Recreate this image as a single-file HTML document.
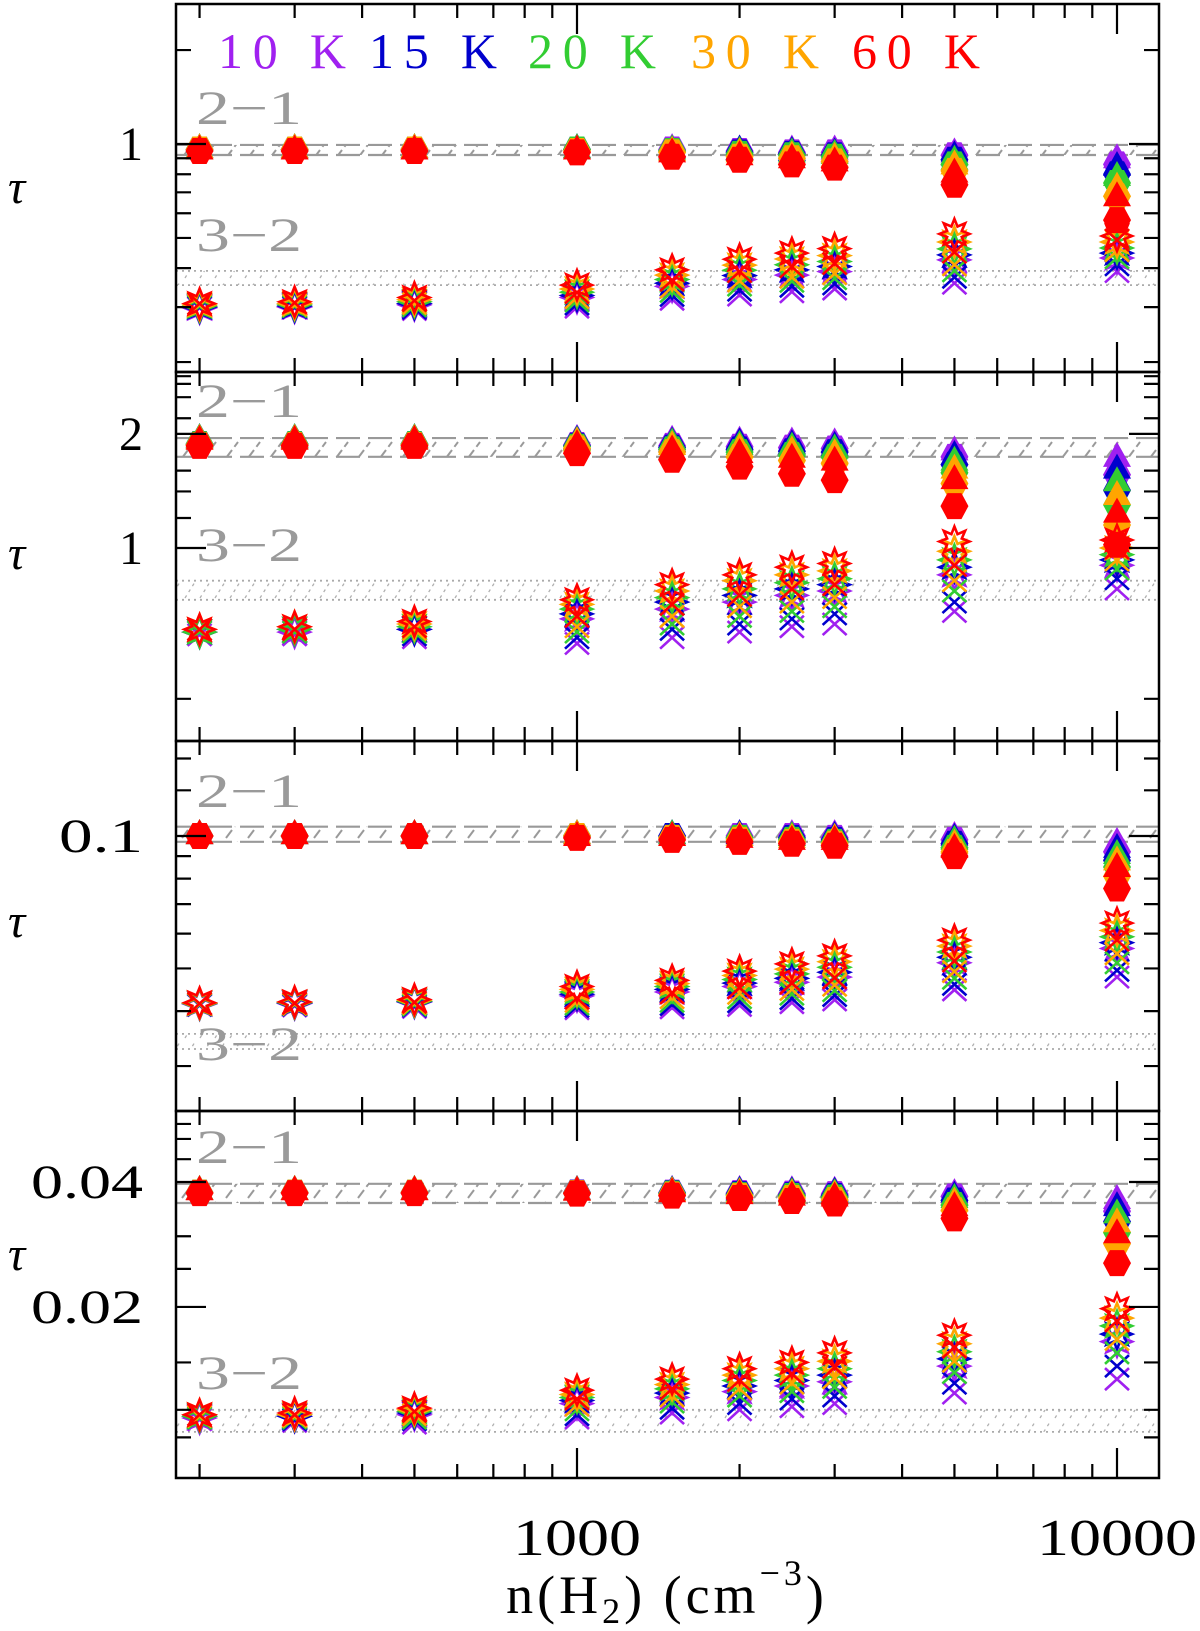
<!DOCTYPE html>
<html><head><meta charset="utf-8"><style>
html,body{margin:0;padding:0;background:#fff}
svg{display:block}
text{font-family:"Liberation Serif",serif}
</style></head>
<body>
<svg id="chart" xmlns="http://www.w3.org/2000/svg" width="1200" height="1631" viewBox="0 0 1200 1631">
<defs>
<pattern id="hatch21" patternUnits="userSpaceOnUse" width="44" height="20">
<path d="M6 18 L18 2 M28 18 L40 2" stroke="#9a9a9a" stroke-width="2" stroke-dasharray="10 4"/>
</pattern>
<pattern id="hatch32" patternUnits="userSpaceOnUse" width="30" height="20">
<path d="M5 18 L15 2 M20 18 L30 2" stroke="#b0b0b0" stroke-width="1.3" stroke-dasharray="3 4"/>
</pattern>
</defs>
<g id="layer-bands"></g>
<g id="layer-marks"></g>
<g id="layer-axes"></g>
</svg>
<script>
// ---- data ----
const densities = [200, 300, 500, 1000, 1500, 2000, 2500, 3000, 5000, 10000];
const temps = ["10 K", "15 K", "20 K", "30 K", "60 K"];
const xMajorTicks = [1000, 10000];
const xMinorTicks = [200,300,400,500,600,700,800,900,2000,3000,4000,5000,6000,7000,8000,9000];

// Panel 1
const p1Tri21 = [
 [.97,.97,.97,.97,.97,.96,.96,.96,.94,.90],
 [.97,.97,.97,.97,.96,.96,.95,.94,.92,.85],
 [.97,.97,.97,.97,.96,.95,.94,.93,.89,.79],
 [.97,.97,.97,.96,.95,.94,.92,.91,.86,.73],
 [.96,.96,.96,.96,.94,.92,.90,.88,.81,.68]];
const p1Hex21 = [
 [.96,.96,.96,.96,.96,.95,.94,.94,.92,.86],
 [.96,.96,.96,.96,.95,.94,.93,.92,.89,.80],
 [.96,.96,.96,.96,.95,.93,.92,.91,.86,.75],
 [.96,.96,.96,.95,.94,.91,.90,.88,.82,.68],
 [.95,.95,.95,.94,.91,.89,.86,.84,.74,.57]];
const p1Star32 = [
 [.298,.300,.305,.322,.350,.368,.380,.390,.425,.431],
 [.300,.302,.308,.327,.358,.379,.395,.405,.441,.447],
 [.302,.305,.312,.335,.368,.394,.410,.420,.461,.464],
 [.305,.308,.317,.343,.380,.409,.428,.439,.485,.485],
 [.308,.312,.322,.353,.395,.427,.447,.462,.515,.507]];
const p1Cross32 = [
 [.298,.298,.295,.300,.318,.328,.336,.343,.358,.390],
 [.300,.300,.298,.307,.327,.340,.350,.356,.374,.410],
 [.302,.302,.303,.314,.337,.353,.363,.370,.392,.432],
 [.305,.305,.308,.322,.348,.364,.374,.384,.410,.455],
 [.308,.310,.315,.334,.366,.390,.404,.414,.450,.492]];
const p1Band21 = [0.922, 0.993];
const p1Band32 = [0.353, 0.392];
const p1TickLabels = [1];
const p1MinorTicks = [2, 0.9, 0.8, 0.7, 0.6, 0.5, 0.4, 0.3, 0.2];

// Panel 2
const p2Tri21 = [
 [1.95,1.95,1.95,1.94,1.93,1.92,1.91,1.90,1.81,1.74],
 [1.95,1.95,1.95,1.93,1.91,1.90,1.88,1.86,1.76,1.62],
 [1.95,1.95,1.95,1.92,1.90,1.87,1.85,1.83,1.70,1.50],
 [1.94,1.94,1.94,1.91,1.87,1.84,1.81,1.78,1.62,1.38],
 [1.93,1.93,1.93,1.88,1.82,1.78,1.73,1.70,1.52,1.24]];
const p2Hex21 = [
 [1.88,1.88,1.88,1.87,1.86,1.85,1.84,1.83,1.74,1.56],
 [1.88,1.88,1.88,1.86,1.84,1.82,1.80,1.79,1.66,1.42],
 [1.88,1.88,1.88,1.85,1.82,1.79,1.76,1.74,1.58,1.30],
 [1.87,1.87,1.87,1.83,1.79,1.74,1.70,1.67,1.48,1.15],
 [1.86,1.86,1.86,1.78,1.71,1.64,1.57,1.51,1.29,1.02]];
const p2Star32 = [
 [.60,.60,.61,.65,.69,.72,.75,.77,.85,.90],
 [.60,.61,.61,.67,.72,.75,.78,.80,.89,.93],
 [.60,.61,.62,.69,.74,.78,.81,.83,.93,.96],
 [.61,.62,.63,.71,.77,.82,.85,.87,.98,1.00],
 [.61,.62,.64,.73,.80,.85,.89,.91,1.04,1.05]];
const p2Cross32 = [
 [.59,.59,.58,.56,.58,.60,.62,.63,.68,.78],
 [.60,.60,.59,.58,.61,.63,.65,.67,.72,.83],
 [.60,.60,.60,.60,.63,.66,.68,.70,.77,.88],
 [.61,.61,.61,.62,.66,.70,.72,.74,.82,.93],
 [.61,.61,.62,.66,.71,.75,.78,.80,.90,1.00]];
const p2Band21 = [1.74, 1.95];
const p2Band32 = [0.73, 0.82];
const p2TickLabels = [2, 1];
const p2MinorTicks = [2.84, 2.71, 2.5, 2.2, 1.6, 1.41, 1.2, 0.4];

// Panel 3
const p3Tri21 = [
 [.101,.101,.101,.101,.101,.101,.101,.101,.100,.097],
 [.101,.101,.101,.101,.101,.101,.100,.100,.099,.094],
 [.101,.101,.101,.101,.101,.100,.100,.099,.098,.091],
 [.101,.101,.101,.101,.100,.100,.099,.099,.096,.088],
 [.101,.101,.101,.100,.100,.099,.098,.098,.094,.085]];
const p3Hex21 = [
 [.100,.100,.100,.100,.100,.100,.100,.099,.098,.092],
 [.100,.100,.100,.100,.100,.099,.099,.098,.096,.088],
 [.100,.100,.100,.100,.099,.099,.098,.097,.094,.085],
 [.100,.100,.100,.100,.099,.098,.097,.096,.092,.081],
 [.100,.100,.100,.099,.098,.097,.096,.095,.090,.076]];
const p3Star32 = [
 [.0415,.0416,.0419,.0433,.0442,.0455,.0465,.0478,.0515,.0555],
 [.0416,.0417,.0420,.0437,.0448,.0463,.0475,.0490,.0530,.0572],
 [.0416,.0418,.0421,.0442,.0455,.0472,.0486,.0503,.0545,.0590],
 [.0417,.0419,.0423,.0448,.0462,.0482,.0498,.0518,.0562,.0610],
 [.0418,.0420,.0425,.0455,.0470,.0493,.0512,.0534,.0580,.0634]];
const p3Cross32 = [
 [.0412,.0411,.0408,.0405,.0407,.0412,.0418,.0424,.0447,.0478],
 [.0413,.0413,.0411,.0410,.0414,.0420,.0427,.0434,.0460,.0495],
 [.0414,.0414,.0413,.0415,.0421,.0429,.0437,.0445,.0475,.0515],
 [.0415,.0415,.0416,.0421,.0429,.0439,.0448,.0458,.0492,.0540],
 [.0416,.0417,.0419,.0428,.0440,.0452,.0463,.0476,.0520,.0580]];
const p3Band21 = [0.097, 0.105];
const p3Band32 = [0.0328, 0.0355];
const p3TickLabels = [0.1];
const p3MinorTicks = [0.15, 0.127, 0.09, 0.08, 0.07, 0.06, 0.05, 0.04, 0.03];

// Panel 4
const p4Tri21 = [
 [.0383,.0383,.0383,.0383,.0383,.0383,.0382,.0381,.0376,.0364],
 [.0383,.0383,.0383,.0383,.0382,.0381,.0380,.0379,.0371,.0350],
 [.0383,.0383,.0383,.0382,.0381,.0379,.0378,.0376,.0366,.0336],
 [.0383,.0383,.0383,.0382,.0380,.0377,.0375,.0373,.0359,.0320],
 [.0382,.0382,.0382,.0381,.0378,.0374,.0371,.0369,.0350,.0301]];
const p4Hex21 = [
 [.0377,.0377,.0377,.0377,.0377,.0376,.0375,.0374,.0369,.0340],
 [.0377,.0377,.0377,.0377,.0376,.0374,.0372,.0370,.0361,.0321],
 [.0377,.0377,.0377,.0376,.0375,.0372,.0370,.0367,.0352,.0302],
 [.0377,.0377,.0377,.0376,.0373,.0370,.0366,.0362,.0342,.0284],
 [.0376,.0376,.0376,.0375,.0371,.0366,.0360,.0355,.0327,.0255]];
const p4Star32 = [
 [.0108,.0109,.0110,.0117,.0121,.0125,.0129,.0132,.0144,.0165],
 [.0109,.0109,.0111,.0119,.0124,.0129,.0133,.0137,.0150,.0172],
 [.0109,.0110,.0112,.0121,.0127,.0133,.0137,.0142,.0156,.0180],
 [.0110,.0110,.0113,.0123,.0130,.0137,.0142,.0148,.0163,.0188],
 [.0110,.0111,.0114,.0126,.0134,.0142,.0147,.0155,.0171,.0198]];
const p4Cross32 = [
 [.0107,.0106,.0105,.0108,.0111,.0113,.0115,.0117,.0124,.0134],
 [.0108,.0107,.0107,.0110,.0114,.0117,.0120,.0122,.0131,.0144],
 [.0108,.0108,.0108,.0113,.0118,.0122,.0125,.0128,.0139,.0155],
 [.0109,.0109,.0110,.0116,.0122,.0127,.0131,.0135,.0148,.0167],
 [.0110,.0110,.0112,.0120,.0127,.0133,.0138,.0143,.0160,.0185]];
const p4Band21 = [0.0356, 0.0396];
const p4Band32 = [0.0100, 0.0113];
const p4TickLabels = [0.04, 0.02];
const p4MinorTicks = [0.0552, 0.0508, 0.0454, 0.0296, 0.0247, 0.0147, 0.0113, 0.0097];

// ---- layout / style ----
const colors = ["#a020f0", "#0000cd", "#32cd32", "#ffa500", "#ff0000"];
const L = 176, R = 1159;
const panels = [
 {top:4, bot:372, anchorVal:1, anchorPx:144, dec:312, tri:p1Tri21, hex:p1Hex21, star:p1Star32, cross:p1Cross32, b21:p1Band21, b32:p1Band32, labels:p1TickLabels, minors:p1MinorTicks, lab21:124, lab32:251, tauY:191},
 {top:372, bot:741, anchorVal:1, anchorPx:548, dec:379, tri:p2Tri21, hex:p2Hex21, star:p2Star32, cross:p2Cross32, b21:p2Band21, b32:p2Band32, labels:p2TickLabels, minors:p2MinorTicks, lab21:417, lab32:561, tauY:557},
 {top:741, bot:1111, anchorVal:0.1, anchorPx:836, dec:440, tri:p3Tri21, hex:p3Hex21, star:p3Star32, cross:p3Cross32, b21:p3Band21, b32:p3Band32, labels:p3TickLabels, minors:p3MinorTicks, lab21:807, lab32:1060, tauY:925},
 {top:1111, bot:1478, anchorVal:0.04, anchorPx:1182, dec:415, tri:p4Tri21, hex:p4Hex21, star:p4Star32, cross:p4Cross32, b21:p4Band21, b32:p4Band32, labels:p4TickLabels, minors:p4MinorTicks, lab21:1163, lab32:1389, tauY:1258}
];

const NS = "http://www.w3.org/2000/svg";
function mk(tag, attrs, parent) {
  const e = document.createElementNS(NS, tag);
  for (const k in attrs) e.setAttribute(k, attrs[k]);
  parent.appendChild(e);
  return e;
}
function xScale(n) { return 577 + 540 * (Math.log10(n) - 3); }
function yScale(p, v) { return p.anchorPx - p.dec * Math.log10(v / p.anchorVal); }

const svg = document.getElementById("chart");
const gBands = document.getElementById("layer-bands");
const gMarks = document.getElementById("layer-marks");
const gAxes = document.getElementById("layer-axes");

panels.forEach((p, pi) => {
  const clipId = "clip" + pi;
  const cp = mk("clipPath", {id: clipId}, svg.querySelector("defs"));
  mk("rect", {x: L, y: p.top, width: R - L, height: p.bot - p.top}, cp);

  const bg = mk("g", {"clip-path": "url(#" + clipId + ")"}, gBands);
  
  
  const y21a = yScale(p, p.b21[1]), y21b = yScale(p, p.b21[0]);
  const r21 = mk("rect", {x: L, y: y21a, width: R - L, height: y21b - y21a, fill: "url(#hatch21)"}, bg);
  
  
  [y21a, y21b].forEach(yy => {
    const ln = mk("line", {x1: L, x2: R, y1: yy, y2: yy, stroke: "#999", "stroke-width": 2.2, "stroke-dasharray": "24 8"}, bg);
    
    
  });
  const y32a = yScale(p, p.b32[1]), y32b = yScale(p, p.b32[0]);
  const r32 = mk("rect", {x: L, y: y32a, width: R - L, height: y32b - y32a, fill: "url(#hatch32)"}, bg);
  
  
  [y32a, y32b].forEach(yy => {
    const ln = mk("line", {x1: L, x2: R, y1: yy, y2: yy, stroke: "#aaa", "stroke-width": 1.8, "stroke-dasharray": "2 4"}, bg);
    
    
  });
  const t21 = mk("text", {x: 196, y: p.lab21, "font-size": 48, fill: "#9a9a9a", textLength: 106, lengthAdjust: "spacingAndGlyphs"}, bg);
  t21.textContent = "2\u22121";
  
  
  const t32 = mk("text", {x: 196, y: p.lab32, "font-size": 48, fill: "#9a9a9a", textLength: 106, lengthAdjust: "spacingAndGlyphs"}, bg);
  t32.textContent = "3\u22122";
  
  

  const mg = mk("g", {"clip-path": "url(#" + clipId + ")"}, gMarks);
  
  
  temps.forEach((t, ti) => {
    const c = colors[ti];
    densities.forEach((n, ni) => {
      const x = xScale(n);
      let y = yScale(p, p.cross[ti][ni]);
      const cr = mk("path", {d: `M${x-12} ${y-11}L${x+12} ${y+11}M${x+12} ${y-11}L${x-12} ${y+11}`, stroke: c, "stroke-width": 2.6, fill: "none"}, mg);
      
      
      y = yScale(p, p.star[ti][ni]);
      let pts = [];
      for (let k = 0; k < 16; k++) {
        const a = -Math.PI / 2 + k * Math.PI / 8;
        const r = k % 2 === 0 ? 15 : 8;
        pts.push((x + r * Math.cos(a)).toFixed(1) + "," + (y + r * Math.sin(a)).toFixed(1));
      }
      const st = mk("polygon", {points: pts.join(" "), fill: "none", stroke: c, "stroke-width": 2.6}, mg);
      
      
      y = yScale(p, p.tri[ti][ni]);
      const tr = mk("polygon", {points: `${x},${y-15} ${x+14},${y+10} ${x-14},${y+10}`, fill: c}, mg);
      
      
      y = yScale(p, p.hex[ti][ni]);
      const hx = mk("polygon", {points: `${x-14},${y} ${x-7},${y-13} ${x+7},${y-13} ${x+14},${y} ${x+7},${y+13} ${x-7},${y+13}`, fill: c}, mg);
      
      
    });
  });

  const ag = mk("g", {}, gAxes);
  
  
  const fr = mk("rect", {x: L, y: p.top, width: R - L, height: p.bot - p.top, fill: "none", stroke: "#000", "stroke-width": 2.5}, ag);
  
  
  let d = "";
  xMinorTicks.forEach(n => { const x = xScale(n); d += `M${x} ${p.top}v14M${x} ${p.bot}v-14`; });
  xMajorTicks.forEach(n => { const x = xScale(n); d += `M${x} ${p.top}v30M${x} ${p.bot}v-30`; });
  p.minors.forEach(v => { const y = yScale(p, v); if (y > p.top && y < p.bot) d += `M${L} ${y}h15M${R} ${y}h-15`; });
  p.labels.forEach(v => { const y = yScale(p, v); d += `M${L} ${y}h30M${R} ${y}h-30`; });
  const tk = mk("path", {d: d, stroke: "#000", "stroke-width": 2.2, fill: "none"}, ag);
  
  
  p.labels.forEach(v => {
    const s = String(v);
    const attrs = {x: 143, y: yScale(p, v) + 16, "font-size": 48, "text-anchor": "end", fill: "#000"};
    if (s.length > 1) { attrs.textLength = s.length * 28; attrs.lengthAdjust = "spacingAndGlyphs"; attrs.x = 143 - s.length * 28; attrs["text-anchor"] = "start"; }
    const tl = mk("text", attrs, ag);
    tl.textContent = s;
    
    
  });
  const tau = mk("text", {x: 8, y: p.tauY + 12, "font-size": 48, fill: "#000", "font-style": "italic"}, ag);
  tau.textContent = "\u03c4";
  
  
});

const legX = [218, 369, 528, 691, 852];
temps.forEach((t, ti) => {
  const lt = mk("text", {x: legX[ti], y: 68, "font-size": 50, fill: colors[ti], textLength: 128, lengthAdjust: "spacing"}, gAxes);
  lt.textContent = t;
  
  
});

xMajorTicks.forEach(n => {
  const s = String(n);
  const w = s.length * 32;
  const xl = mk("text", {x: xScale(n) - w / 2, y: 1555, "font-size": 52, fill: "#000", textLength: w, lengthAdjust: "spacingAndGlyphs"}, gAxes);
  xl.textContent = s;
  
  
});
</script>
<svg style="position:absolute;left:0;top:0" width="1200" height="1631">
<text x="667" y="1613" font-size="54" letter-spacing="4" text-anchor="middle" font-family="Liberation Serif, serif">n(H<tspan font-size="36" dy="10">2</tspan><tspan dy="-10">) (cm</tspan><tspan font-size="36" dy="-28">−3</tspan><tspan dy="28">)</tspan></text>
</svg>
</body></html>
